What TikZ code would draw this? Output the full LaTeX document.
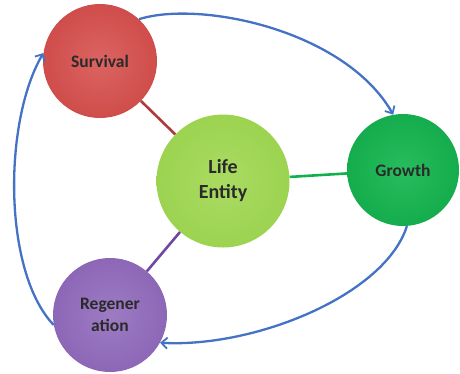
\documentclass[tikz,border=0pt]{standalone}
\usepackage{fontspec}
\setmainfont{Carlito}
\usetikzlibrary{arrows.meta}

\definecolor{survfill}{HTML}{CF4D4B}
\definecolor{survlight}{HTML}{DB6462}
\definecolor{lifefill}{HTML}{9CD350}
\definecolor{lifelight}{HTML}{AADB62}
\definecolor{growfill}{HTML}{14AC4C}
\definecolor{growlight}{HTML}{28BD5E}
\definecolor{regfill}{HTML}{8D67B7}
\definecolor{reglight}{HTML}{9D7CC3}
\definecolor{cycleblue}{HTML}{4472C4}
\definecolor{survline}{HTML}{B03A3A}
\definecolor{growline}{HTML}{10B04A}
\definecolor{regline}{HTML}{7048A0}
\definecolor{labeltext}{HTML}{2A2A2A}

\tikzset{
  stage/.style={circle, inner sep=0pt, align=center, text=labeltext,
    font=\fontsize{17.5}{22}\selectfont\bfseries},
  bigstage/.style={stage, font=\fontsize{20}{25}\selectfont\bfseries},
  link/.style={line width=2.6pt},
  cycle/.style={draw=cycleblue, line width=2.3pt,
    -{Straight Barb[length=6pt,width=11pt,line width=1.8pt]}},
}

\begin{document}
\begin{tikzpicture}[x=1pt, y=-1pt]
  \useasboundingbox (0,0) rectangle (460,373);

  % four stages of the life cycle
  \node[stage, minimum size=114pt, inner color=survlight, outer color=survfill]
    (surv) at (100,61) {Survival};
  \node[bigstage, minimum size=133pt, inner color=lifelight, outer color=lifefill]
    (life) at (223,181) {Life\\Entity};
  \node[stage, minimum size=112pt, inner color=growlight, outer color=growfill]
    (grow) at (403,170) {Growth};
  \node[stage, minimum size=114pt, inner color=reglight, outer color=regfill]
    (regen) at (110,315) {Regener\\ation};

  % spokes from the central entity
  \draw[link, survline] (surv) -- (life);
  \draw[link, growline] (life) -- (grow);
  \draw[link, regline] (life) -- (regen);

  % outer cycle
  \draw[cycle] (surv.47) .. controls (200,0) and (345,30) .. (grow.100);
  \draw[cycle] (grow.-86) .. controls (385,295) and (255,348) .. (regen.-29);
  \draw[cycle] (regen.190) .. controls (3,272) and (3,122) .. (surv.172);
\end{tikzpicture}
\end{document}
